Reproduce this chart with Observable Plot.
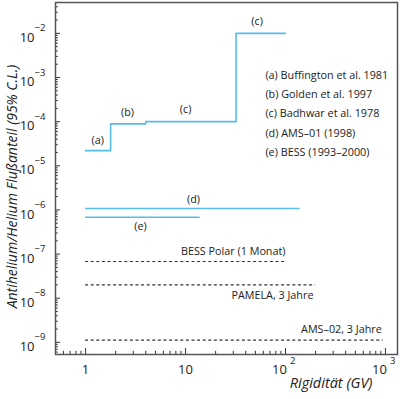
<!DOCTYPE html>
<html><head><meta charset="utf-8">
<script src="https://cdn.jsdelivr.net/npm/d3@7"></script>
<script src="https://cdn.jsdelivr.net/npm/@observablehq/plot@0.6"></script>
<style>html,body{margin:0;padding:0;background:#fff;} svg{display:block}</style>
</head><body><div id="chart"></div>
<script>
// ---- data ----
// step-shaped upper limits (a) Buffington, (b) Golden, (c) Badhwar
const stepX = [1, 1.78, 1.78, 4, 4, 32, 32, 100];
const stepY = [2.2e-5, 2.2e-5, 8.9e-5, 8.9e-5, 1.0e-4, 1.0e-4, 1.0e-2, 1.0e-2];
// flat measured limits (d) AMS-01, (e) BESS
const flatNames = ["(d)", "(e)"];
const flatY = [1.08e-6, 6.8e-7];
const flatX1 = [1, 1];
const flatX2 = [140, 14];
// expected sensitivities (dashed)
const futureNames = ["BESS Polar (1 Monat)", "PAMELA, 3 Jahre", "AMS–02, 3 Jahre"];
const futureY = [6.8e-8, 2.0e-8, 1.12e-9];
const futureX1 = [1, 1, 1];
const futureX2 = [100, 200, 950];
// annotation labels
const labelText = ["(a)", "(b)", "(c)", "(c)", "(d)", "(e)", "BESS Polar (1 Monat)", "PAMELA, 3 Jahre", "AMS–02, 3 Jahre"];
const labelX = [1.32, 2.63, 10, 52, 12, 3.55, 30, 74, 363];
const labelY = [3.8e-5, 1.64e-4, 1.92e-4, 1.9e-2, 1.75e-6, 4.27e-7, 1.16e-7, 1.17e-8, 1.97e-9];
// legend
const legendText = ["(a) Buffington et al. 1981", "(b) Golden et al. 1997", "(c) Badhwar et al. 1978", "(d) AMS–01 (1998)", "(e) BESS (1993–2000)"];
const legendX = 63;
const legendY = [1.13e-3, 4.2e-4, 1.56e-4, 5.5e-5, 2.04e-5];
// ticks
const yMajor = [1e-9, 1e-8, 1e-7, 1e-6, 1e-5, 1e-4, 1e-3, 1e-2];
const yExp = ["−9", "−8", "−7", "−6", "−5", "−4", "−3", "−2"];
const xMajor = [1, 10, 100, 1000];
const xPlain = [1, 10];
const xPlainLabels = ["1", "10"];
const xPow = [100, 1000];
const xPowExp = ["2", "3"];
const mantissas = [2, 3, 4, 5, 6, 7, 8, 9];
const xDecades = [0.1, 1, 10, 100, 1000];
const yDecades = [1e-10, 1e-9, 1e-8, 1e-7, 1e-6, 1e-5, 1e-4, 1e-3, 1e-2];

const xDomain = [0.5, 1320];
const yDomain = [5.3e-10, 0.05];
const inX = v => v >= xDomain[0] && v <= xDomain[1];
const inY = v => v >= yDomain[0] && v <= yDomain[1];
const xMinor = xDecades.flatMap(d => mantissas.map(m => m * d)).filter(inX);
const yMinor = yDecades.flatMap(d => mantissas.map(m => m * d)).filter(inY);

const steps = stepX.map((x, i) => ({x, y: stepY[i]}));
const flats = flatNames.map((n, i) => ({n, y: flatY[i], x1: flatX1[i], x2: flatX2[i]}));
const futures = futureNames.map((n, i) => ({n, y: futureY[i], x1: futureX1[i], x2: futureX2[i]}));
const labels = labelText.map((t, i) => ({t, x: labelX[i], y: labelY[i]}));
const legend = legendText.map((t, i) => ({t, x: legendX, y: legendY[i]}));

const FONT = "Open Sans";
const BLUE = "#56bde9";
const INK = "#222";

const chart = Plot.plot({
  width: 400,
  height: 399,
  marginLeft: 55,
  marginRight: 3,
  marginTop: 2,
  marginBottom: 45,
  style: {fontFamily: FONT, background: "#fff", color: INK},
  x: {type: "log", domain: xDomain},
  y: {type: "log", domain: yDomain},
  marks: [
    // inward ticks
    Plot.axisY({ticks: yMajor, tickSize: -5, tickFormat: () => "", label: null, stroke: "#333"}),
    Plot.axisY({ticks: yMinor, tickSize: -2.8, tickFormat: () => "", label: null, stroke: "#333"}),
    Plot.axisX({ticks: xMajor, tickSize: -6, tickFormat: () => "", label: null, stroke: "#333"}),
    Plot.axisX({ticks: xMinor, tickSize: -3.2, tickFormat: () => "", label: null, stroke: "#333"}),
    // y tick labels 10^k
    Plot.text(yMajor, {y: d => d, frameAnchor: "left", text: () => "10", textAnchor: "end", dx: -21, dy: 4.5, fontSize: 13, fill: INK}),
    Plot.text(yMajor, {y: d => d, frameAnchor: "left", text: (d, i) => yExp[i], textAnchor: "start", dx: -21, dy: -5, fontSize: 9.5, fill: INK}),
    // x tick labels
    Plot.text(xPlain, {x: d => d, frameAnchor: "bottom", text: (d, i) => xPlainLabels[i], dy: 19, fontSize: 13, fill: INK}),
    Plot.text(xPow, {x: d => d, frameAnchor: "bottom", text: () => "10", textAnchor: "end", dx: 1.5, dy: 19, fontSize: 13, fill: INK}),
    Plot.text(xPow, {x: d => d, frameAnchor: "bottom", text: (d, i) => xPowExp[i], textAnchor: "start", dx: 4.5, dy: 9, fontSize: 9.5, fill: INK}),
    // axis titles
    Plot.text(["Rigidität (GV)"], {frameAnchor: "bottom-right", text: d => d, textAnchor: "end", dx: -25, dy: 33, fontSize: 14.5, fontStyle: "italic", fill: INK}),
    Plot.text(["Antihelium/Helium Flußanteil (95% C.L.)"], {frameAnchor: "left", text: d => d, textAnchor: "middle", rotate: -90, dx: -43, dy: 8, fontSize: 14, fontStyle: "italic", fill: INK}),
    // data
    Plot.line(steps, {x: "x", y: "y", stroke: BLUE, strokeWidth: 1.6}),
    Plot.ruleY(flats, {y: "y", x1: "x1", x2: "x2", stroke: BLUE, strokeWidth: 1.6}),
    Plot.ruleY(futures, {y: "y", x1: "x1", x2: "x2", stroke: "#333", strokeWidth: 1.1, strokeDasharray: "3,2.6"}),
    Plot.text(labels, {x: "x", y: "y", text: "t", fontSize: 10.8, fill: INK}),
    Plot.text(legend, {x: "x", y: "y", text: "t", textAnchor: "start", fontSize: 10.8, fill: INK}),
    Plot.frame({stroke: "#555", strokeWidth: 1.5})
  ]
});
document.getElementById("chart").appendChild(chart);
</script>
</body></html>
